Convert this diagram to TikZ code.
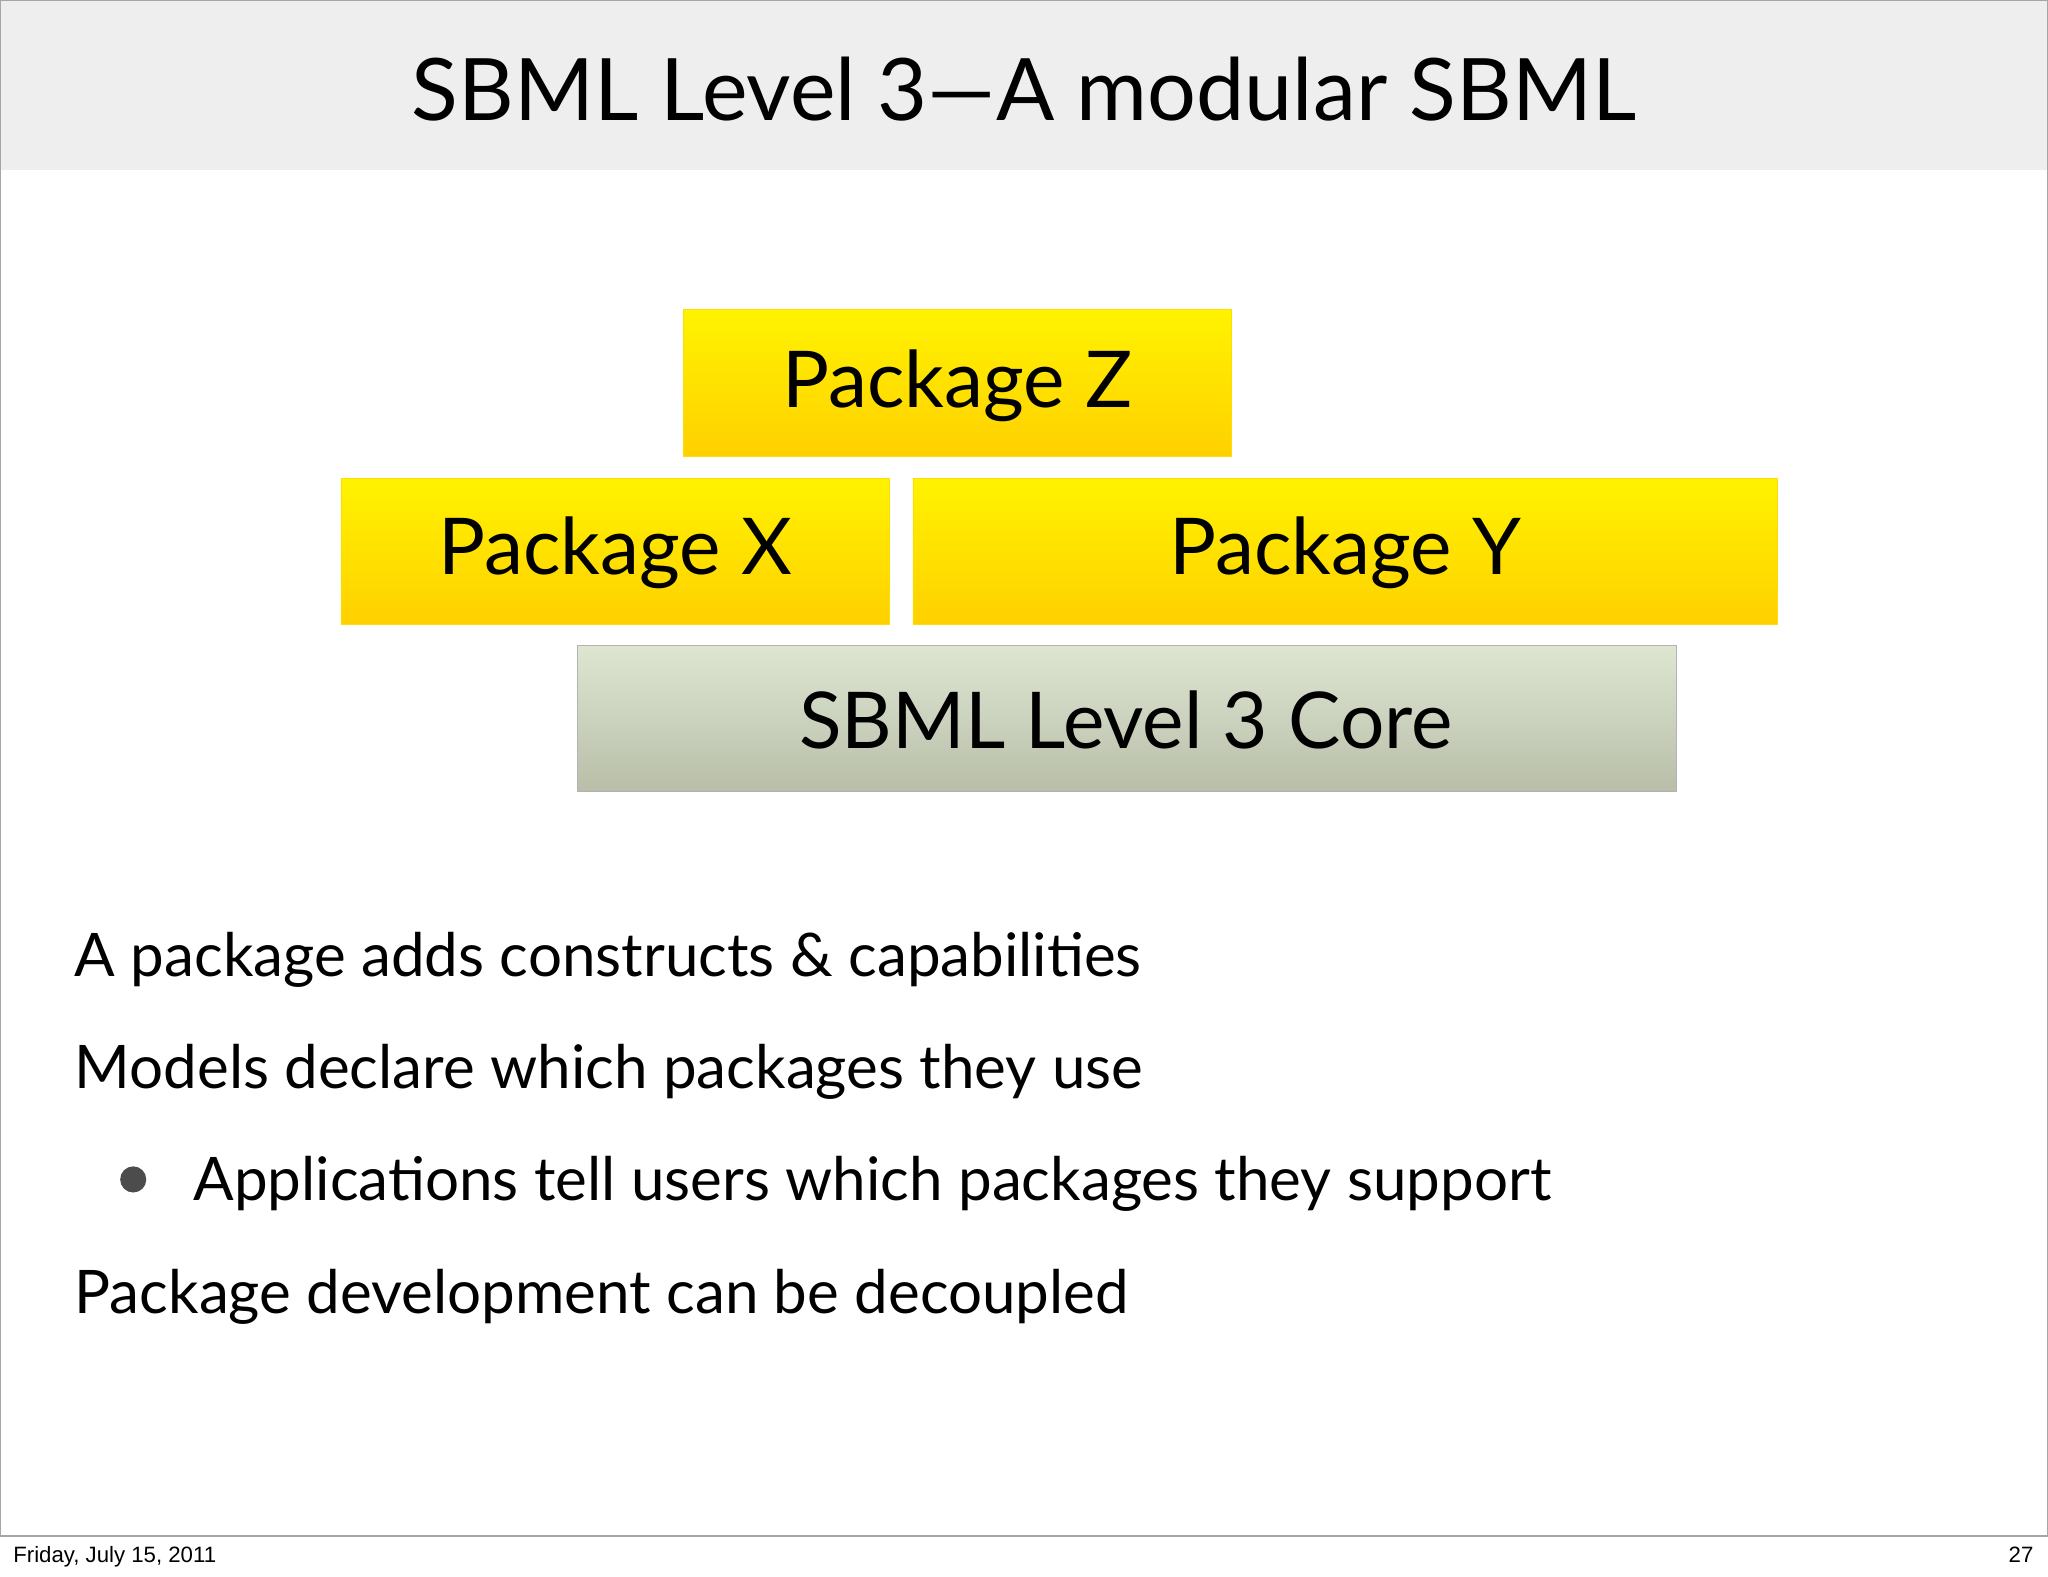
\documentclass[tikz,border=0pt]{standalone}
\usepackage{fontspec}
\setmainfont{Lato}
\newfontfamily\footfont{Liberation Sans}
\begin{document}
\begin{tikzpicture}[x=1pt,y=-1pt,
  pkg/.style={draw=yellow!80!orange,top color={rgb,255:red,255;green,243;blue,0},bottom color={rgb,255:red,255;green,208;blue,0},inner sep=0pt},
  core/.style={draw=gray!60,top color={rgb,255:red,222;green,230;blue,210},bottom color={rgb,255:red,184;green,190;blue,168},inner sep=0pt},
  boxtxt/.style={font=\fontsize{60}{66}\selectfont,text=black},
  body/.style={anchor=base west,font=\fontsize{46}{52}\selectfont,inner sep=0pt}]
\useasboundingbox (0,0) rectangle (1568,1207);
\fill[white] (0,0) rectangle (1568,1207);
\fill[gray!13] (0,0) rectangle (1568,130);
\draw[gray!70,line width=0.8pt] (0.5,0.5) rectangle (1567.5,1176);
\node[font=\fontsize{66}{72}\selectfont] (title) at (784,68) {SBML Level 3—A modular SBML};
\path[pkg] (523,237) rectangle (943,349);
\node[boxtxt] (z) at (733,295) {Package Z};
\path[pkg] (261,366) rectangle (681,478);
\node[boxtxt] (x) at (471,423) {Package X};
\path[pkg] (699,366) rectangle (1361,478);
\node[boxtxt] (y) at (1030,423) {Package Y};
\path[core] (442,494) rectangle (1283,606);
\node[boxtxt] (c) at (862,551) {SBML Level 3 Core};
\node[body] (t1) at (57,748) {A package adds constructs \& capabilities};
\node[body] (t2) at (57,833) {Models declare which packages they use};
\fill[black!70] (102,903) circle (10);
\node[body] (t3) at (148,919) {Applications tell users which packages they support};
\node[body] (t4) at (57,1006) {Package development can be decoupled};
\node[anchor=base west,font=\footfont\fontsize{17}{20}\selectfont,inner sep=0pt] (f1) at (10,1196) {Friday, July 15, 2011};
\node[anchor=base east,font=\footfont\fontsize{17}{20}\selectfont,inner sep=0pt] (f2) at (1557,1196) {27};
\end{tikzpicture}
\end{document}
